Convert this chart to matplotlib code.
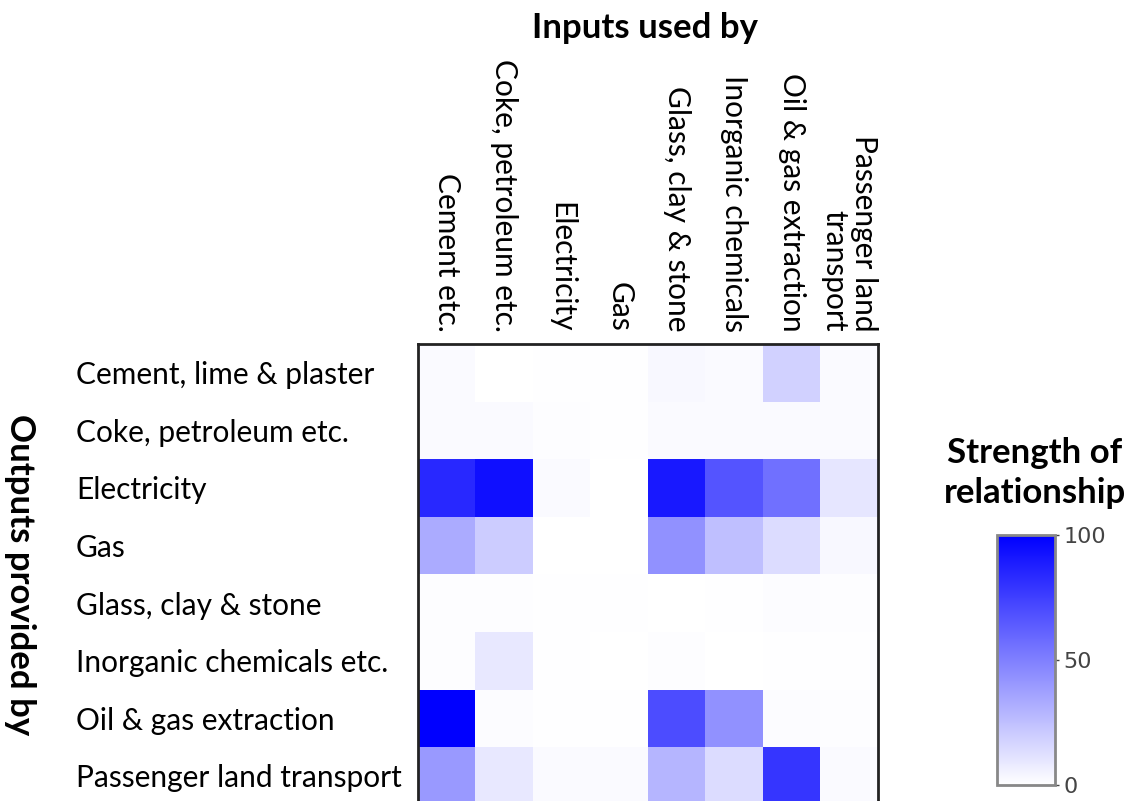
import numpy as np
import matplotlib
matplotlib.use("Agg")
import matplotlib.pyplot as plt
from matplotlib.colors import LinearSegmentedColormap
from matplotlib import transforms

plt.rcParams['font.family'] = ['Lato', 'DejaVu Sans']

# sectors (rows = outputs provided by, cols = inputs used by)
row_labels = ["Cement, lime & plaster", "Coke, petroleum etc.", "Electricity", "Gas",
              "Glass, clay & stone", "Inorganic chemicals etc.", "Oil & gas extraction",
              "Passenger land transport"]
col_labels = ["Cement etc.", "Coke, petroleum etc.", "Electricity", "Gas",
              "Glass, clay & stone", "Inorganic chemicals", "Oil & gas extraction",
              "Passenger land\ntransport"]

# strength of relationship, 0-100
cement_row = [2, 0, 0.5, 0.5, 3, 2, 18, 2]
coke_row = [2, 2, 1, 0.5, 2, 2, 2, 2]
electricity_row = [84, 94, 2, 0, 90, 67, 56, 10]
gas_row = [33, 20, 0, 0, 43, 25, 14, 3]
glass_row = [1, 1, 0.5, 0.5, 0, 0.5, 1.5, 1]
inorganic_row = [1, 9, 0.5, 0, 1, 0, 0.5, 0.5]
oilgas_row = [100, 1.5, 0.5, 0.5, 70, 43, 1.5, 1]
passenger_row = [40, 9, 2, 2, 29, 14, 79, 2]

data = np.array([cement_row, coke_row, electricity_row, gas_row,
                 glass_row, inorganic_row, oilgas_row, passenger_row])

W, H = 1136, 801
fig = plt.figure(figsize=(W / 100, H / 100), dpi=100)

cmap = LinearSegmentedColormap.from_list("wb", ["#ffffff", "#0000ff"])

ax = fig.add_axes([418 / W, (H - 805) / H, 460 / W, 461 / H])
im = ax.imshow(data, cmap=cmap, vmin=0, vmax=100, aspect='auto', interpolation='nearest')
ax.set_xticks([])
ax.set_yticks([])
for s in ax.spines.values():
    s.set_color('#222222')
    s.set_linewidth(2)

# row labels, left aligned
trans_rows = transforms.blended_transform_factory(fig.transFigure, ax.transData)
for i, lab in enumerate(row_labels):
    fig.text(76 / W, i + 0.04, lab, transform=trans_rows, ha='left', va='center', fontsize=21.5)

# column labels, rotated
trans_cols = transforms.blended_transform_factory(ax.transData, fig.transFigure)
for j, lab in enumerate(col_labels):
    ax.text(j, (H - 332) / H, lab, transform=trans_cols, rotation=270,
            ha='center', va='bottom', multialignment='right', fontsize=21.5,
            linespacing=1.1)

fig.text(645 / W, (H - 28) / H, "Inputs used by", ha='center', va='center',
         fontsize=25, fontweight='bold')
fig.text(20 / W, (H - 575) / H, "Outputs provided by", ha='center', va='center',
         rotation=270, fontsize=25, fontweight='bold')
fig.text(1035 / W, (H - 473) / H, "Strength of\nrelationship", ha='center', va='center',
         fontsize=25, fontweight='bold', linespacing=1.3)

cax = fig.add_axes([997 / W, (H - 785) / H, 58 / W, 250 / H])
cb = fig.colorbar(im, cax=cax, ticks=[0, 50, 100])
cb.outline.set_edgecolor('#888888')
cb.outline.set_linewidth(2)
cax.tick_params(axis='y', length=3, width=1, color='#444444', labelcolor='#444444',
                labelsize=16, pad=3)
for t in cax.get_yticklabels():
    t.set_family('DejaVu Sans')

fig.savefig("out.png", dpi=100)
